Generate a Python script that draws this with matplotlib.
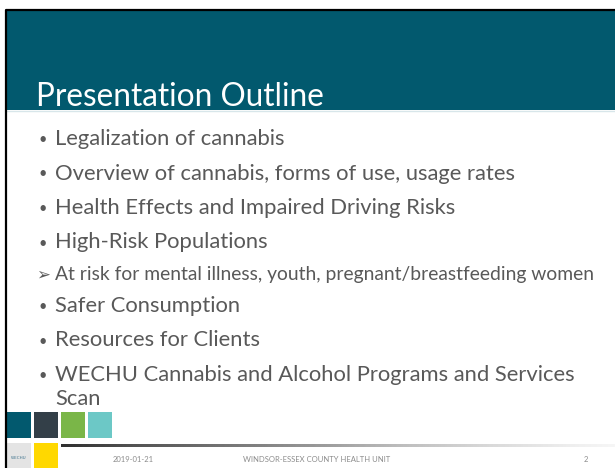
import matplotlib.pyplot as plt
import numpy as np
from matplotlib.patches import Rectangle

# slide content
title = "Presentation Outline"
bullets = [
    "Legalization of cannabis",
    "Overview of cannabis, forms of use, usage rates",
    "Health Effects and Impaired Driving Risks",
    "High-Risk Populations",
    "At risk for mental illness, youth, pregnant/breastfeeding women",
    "Safer Consumption",
    "Resources for Clients",
    "WECHU Cannabis and Alcohol Programs and Services\nScan",
]
levels = [0, 0, 0, 0, 1, 0, 0, 0]
footer_date = "2019-01-21"
footer_org = "WINDSOR-ESSEX COUNTY HEALTH UNIT"
footer_page = "2"
square_colors = ["#02596E", "#333F48", "#7AB648", "#6CC8C6"]

teal = "#02596E"
text_col = "#595959"
fonts = ["Lato", "DejaVu Sans"]

fig = plt.figure(figsize=(6.15, 4.68), dpi=100)
ax = fig.add_axes([0, 0, 1, 1])
ax.set_xlim(0, 615)
ax.set_ylim(468, 0)
ax.axis("off")

# header band
ax.add_patch(Rectangle((6, 10), 609, 100, color=teal, lw=0))
ax.plot([6, 615], [110.5, 110.5], color="#d8e6ea", lw=1)
# slide border
ax.plot([6, 6, 615], [468, 9.5, 9.5], color="black", lw=1.6)

ax.text(36, 106, title, color="white", fontsize=22.7, family=fonts,
        va="baseline")

# bullets
y = 145
for item, lvl in zip(bullets, levels):
    if lvl == 0:
        ax.text(38, y - 1, "\u2022", color=text_col, fontsize=10.5, family=fonts, va="baseline")
        for k, line in enumerate(item.split("\n")):
            ax.text(55, y + k * 24, line, color=text_col, fontsize=15.8, family=fonts,
                    va="baseline")
        y += 34.5
    else:
        y -= 3
        ax.text(36, y, "\u27a2", color=text_col, fontsize=12, family=["DejaVu Sans"], va="baseline")
        ax.text(55, y, item, color=text_col, fontsize=13.9, family=fonts, va="baseline")
        y += 32

# coloured squares
for i, c in enumerate(square_colors):
    ax.add_patch(Rectangle((7 + i * 27, 412), 24, 26, color=c, lw=0))
ax.add_patch(Rectangle((34, 443), 24, 26, color="#FFD800", lw=0))
ax.add_patch(Rectangle((7, 443), 24, 26, color="#e4e4e4", lw=0))
ax.text(19, 458, "WECHU", fontsize=3, color="#3a6f8a", ha="center", va="center")

# gradient line
grad = np.linspace(0, 1, 300).reshape(1, -1)
ax.imshow(grad, cmap="Greys_r", extent=(61, 615, 447.5, 445), aspect="auto",
          vmin=-0.2, vmax=1.1)
ax.set_xlim(0, 615)
ax.set_ylim(468, 0)

ax.text(133, 460, footer_date, fontsize=5.5, color="#8c8c8c", ha="center", va="center", family=fonts)
ax.text(317, 460, footer_org, fontsize=5.5, color="#8c8c8c", ha="center", va="center", family=fonts)
ax.text(586, 460, footer_page, fontsize=5.5, color="#8c8c8c", ha="center", va="center", family=fonts)

fig.savefig("out.png", dpi=100)
